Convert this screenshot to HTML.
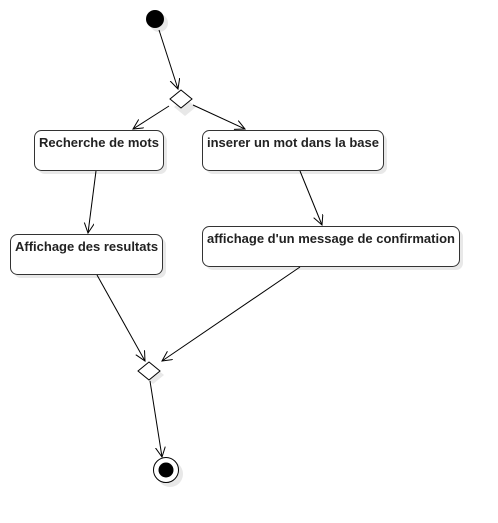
<!DOCTYPE html>
<html><head><style>body{margin:0;background:#fff}svg{display:block}text{font-family:"Liberation Sans",sans-serif;font-weight:bold;font-size:13px;fill:#222}</style></head>
<body>
<svg width="498" height="523" viewBox="0 0 498 523" xmlns="http://www.w3.org/2000/svg">
<defs><marker id="a" markerWidth="12" markerHeight="12" refX="10" refY="5" orient="auto" markerUnits="userSpaceOnUse"><path d="M0,0 L10,5 L0,10" fill="none" stroke="#000" stroke-width="1"/></marker></defs>
<g fill="#e8e8e8" stroke="none">
<circle cx="159" cy="23" r="9"/>
<rect x="38" y="134" width="129" height="40" rx="7"/>
<rect x="206" y="134" width="181" height="40" rx="7"/>
<rect x="14" y="238" width="152" height="40" rx="7"/>
<rect x="206" y="230" width="257" height="40" rx="7"/>
<polygon points="185,98 196,107 185,116 174,107"/>
<polygon points="153,366 164,375 153,384 142,375"/>
<circle cx="170" cy="474" r="13"/>
</g>
<circle cx="155" cy="19" r="9" fill="#000"/>
<g fill="#fff" stroke="#333" stroke-width="1">
<rect x="34.5" y="130.5" width="129" height="40" rx="7"/>
<rect x="202.5" y="130.5" width="181" height="40" rx="7"/>
<rect x="10.5" y="234.5" width="152" height="40" rx="7"/>
<rect x="202.5" y="226.5" width="257" height="40" rx="7"/>
</g>
<g fill="#fff" stroke="#000" stroke-width="1">
<polygon points="181,90 192,99 181,108 170,99"/>
<polygon points="149,362 160,371 149,380 138,371"/>
<circle cx="166" cy="470" r="12.5"/>
</g>
<circle cx="166" cy="470" r="7.5" fill="#000"/>
<text x="39" y="147">Recherche de mots</text>
<text x="207" y="147">inserer un mot dans la base</text>
<text x="15" y="251">Affichage des resultats</text>
<text x="207" y="243">affichage d'un message de confirmation</text>
<g stroke="#000" stroke-width="1" fill="none" marker-end="url(#a)">
<line x1="159" y1="30" x2="178" y2="89"/>
<line x1="169" y1="106" x2="133" y2="129"/>
<line x1="193" y1="105" x2="245" y2="129"/>
<line x1="96" y1="171" x2="88" y2="233"/>
<line x1="300" y1="171" x2="322" y2="225"/>
<line x1="97" y1="275" x2="145" y2="361"/>
<line x1="300" y1="267" x2="162" y2="361"/>
<line x1="150" y1="381" x2="162" y2="457"/>
</g>
</svg>
</body></html>
